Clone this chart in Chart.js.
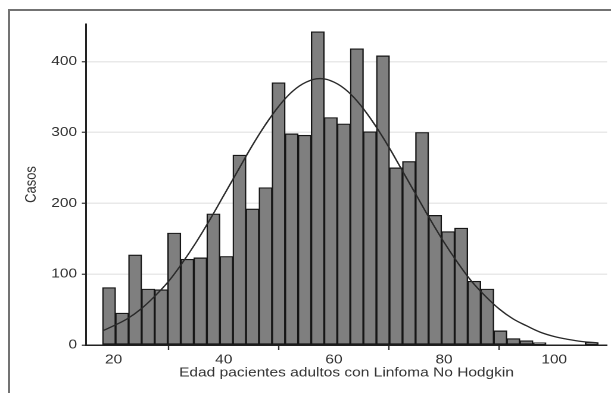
<!DOCTYPE html>
<html>
<head>
<meta charset="utf-8">
<script src="https://cdn.jsdelivr.net/npm/chart.js@4.4.1/dist/chart.umd.min.js"></script>
<style>
  html, body { margin: 0; padding: 0; background: #fff; overflow: hidden; }
  #wrap { position: absolute; left: 0; top: 0; width: 513px; height: 393px;
          transform: scaleX(1.191); transform-origin: 0 0; }
  #frame { position: absolute; left: 8px; top: 9px; width: 620px; height: 400px;
           border-top: 2px solid #737373; border-left: 2px solid #737373; pointer-events: none; }
</style>
</head>
<body>
<div id="wrap"><canvas id="mycanvas" width="513" height="393"></canvas></div>
<div id="frame"></div>
<script>
// histogram bins (age), start and width
var binStart = 18;
var binWidth = 2.368;
// cases per bin
var Casos = [81, 45, 127, 79, 78, 158, 121, 123, 185, 125,
             268, 192, 222, 370, 298, 296, 442, 321, 312, 418,
             301, 408, 250, 259, 300, 183, 160, 165, 90, 79,
             20, 9, 6, 3, 0, 0, 0, 3];
// fitted curve
var curveAge = [18, 20, 22.5, 25, 27.5, 30, 32.5, 35, 37.5, 40, 42.5, 45, 47.5,
                50, 52.5, 55, 57.5, 60, 62.5, 65, 67.5, 70, 72.5, 75, 77.5, 80,
                82.5, 85, 87.5, 90, 92.5, 95, 97.5, 100, 102.5, 105, 108];
var curveCasos = [20, 27, 37, 51, 69, 90, 116, 145, 177, 211, 245, 279, 310,
                  337, 358, 371, 376, 371, 358, 337, 310, 279, 245, 211, 177, 145,
                  116, 90, 69, 51, 37, 27, 18, 12, 8, 5, 3];
var xTicks = [20, 40, 60, 80, 100];
var yTicks = [0, 100, 200, 300, 400];

var barData = [];
for (var i in Casos) {
    barData.push({ x: binStart + binWidth * (Number(i) + 0.5), y: Casos[i] });
}
var lineData = [];
for (var j in curveAge) {
    lineData.push({ x: curveAge[j], y: curveCasos[j] });
}

var font = { family: "'Liberation Sans', Arial, sans-serif", size: 13 };
var textColor = '#333';

var ctx = document.getElementById('mycanvas');
var chart = new Chart(ctx, {
    type: 'bar',
    data: {
        datasets: [
            {
                type: 'line',
                data: lineData,
                borderColor: '#2a2a2a',
                borderWidth: 1.3,
                tension: 0.4,
                pointRadius: 0,
                fill: false,
                order: 0
            },
            {
                type: 'bar',
                data: barData,
                backgroundColor: '#7f7f7f',
                borderColor: '#161616',
                borderWidth: 1.2,
                borderSkipped: false,
                barPercentage: 1,
                categoryPercentage: 1,
                order: 1
            }
        ]
    },
    options: {
        responsive: false,
        animation: false,
        devicePixelRatio: 2,
        layout: { padding: { left: 18.6, top: 24, right: 3.3, bottom: 12.2 } },
        plugins: { legend: { display: false }, tooltip: { enabled: false } },
        scales: {
            x: {
                type: 'linear',
                min: 15,
                max: 109.6,
                offset: false,
                afterBuildTicks: function (scale) {
                    scale.ticks = xTicks.map(function (v) { return { value: v }; });
                },
                afterFit: function (scale) { scale.height = 35.8; },
                ticks: { font: font, color: textColor, padding: 2, maxRotation: 0 },
                grid: { drawOnChartArea: false, tickLength: 5, tickColor: '#333', tickWidth: 1.2 },
                border: { display: true, color: '#222', width: 1.5 },
                title: {
                    display: true,
                    text: 'Edad pacientes adultos con Linfoma No Hodgkin',
                    font: font, color: textColor, padding: 0
                }
            },
            y: {
                min: 0,
                max: 453,
                afterBuildTicks: function (scale) {
                    scale.ticks = yTicks.map(function (v) { return { value: v }; });
                },
                afterFit: function (scale) { scale.width = 53.6; },
                ticks: { font: font, color: textColor, padding: 4 },
                grid: { color: '#e9e9e9', lineWidth: 1.5, tickLength: 3.5, tickColor: '#333', tickWidth: 1.2 },
                border: { display: true, color: '#222', width: 1.5 },
                title: { display: true, text: 'Casos', font: font, color: textColor, padding: 0 }
            }
        }
    }
});
</script>
</body>
</html>
